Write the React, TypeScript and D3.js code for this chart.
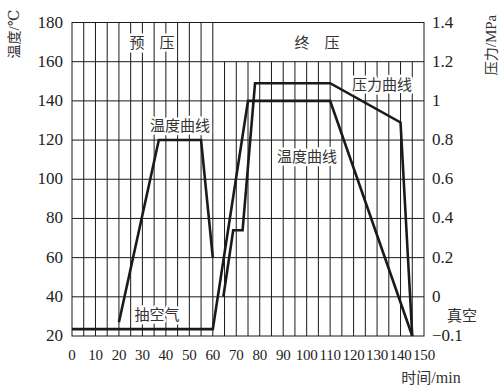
import React from 'react';
import * as d3 from 'd3';

// time in min, temperature in °C, pressure in MPa
const xTicks = d3.range(0, 151, 10);
const tempTicks = [20, 40, 60, 80, 100, 120, 140, 160, 180];
const pressTicks = [-0.1, 0, 0.2, 0.4, 0.6, 0.8, 1, 1.2, 1.4];
const pressTickLabels = ['−0.1', '0', '0.2', '0.4', '0.6', '0.8', '1', '1.2', '1.4'];

const preTemp: [number, number][] = [[20, 27], [37, 120], [55, 120], [60, 60]];
const mainTemp: [number, number][] = [[0, 23.5], [60, 23.5], [75, 140], [110, 140], [145, 20]];
const pressure: [number, number][] = [[64.5, 0], [68.7, 0.34], [72.7, 0.34], [78, 1.09], [110, 1.09], [140, 0.89], [145, -0.1]];

const serif = "'Liberation Serif', 'Times New Roman', 'DejaVu Serif', serif";
const cjk = "'Noto Sans CJK SC', sans-serif";

export default function App() {
  const W = 502, H = 391;
  const x = d3.scaleLinear().domain([0, 150]).range([72, 424]);
  const yT = d3.scaleLinear().domain([20, 180]).range([336, 22.5]);
  const yP = d3.scaleLinear().domain([-0.1, 0, 1.4]).range([336, 296.8, 22.5]);

  const lineT = d3.line<[number, number]>().x(d => x(d[0])).y(d => yT(d[1]));
  const lineP = d3.line<[number, number]>().x(d => x(d[0])).y(d => yP(d[1]));

  const minorX = d3.range(5, 150, 5);
  const halo = { stroke: '#fff', strokeWidth: 5, paintOrder: 'stroke', strokeLinejoin: 'round' as const };

  return (
    <svg width={W} height={H} style={{ position: 'absolute', left: 0, top: 0, background: '#fff' }}>
      {/* grid */}
      <g stroke="#1a1a1a" strokeWidth={1}>
        {minorX.map(m => (
          <line key={'v' + m} x1={x(m)} x2={x(m)} y1={m <= 60 ? yT(180) : yT(160)} y2={yT(20)} />
        ))}
        {tempTicks.slice(1, -1).map(t => (
          <line key={'h' + t} x1={x(0)} x2={x(150)} y1={yT(t)} y2={yT(t)} />
        ))}
        <rect x={x(0)} y={yT(180)} width={x(150) - x(0)} height={yT(20) - yT(180)} fill="none" />
      </g>

      {/* curves */}
      <g fill="none" stroke="#1a1a1a" strokeWidth={2.6} strokeLinejoin="miter">
        <path d={lineT(preTemp) || ''} />
        <path d={lineT(mainTemp) || ''} />
        <path d={lineP(pressure) || ''} />
      </g>

      {/* tick labels */}
      <g style={{ fontFamily: serif }} fontSize={17} fill="#222">
        {tempTicks.map(t => (
          <text key={t} x={63} y={yT(t) + 5} textAnchor="end">{t}</text>
        ))}
        {pressTicks.map((p, i) => (
          <text key={p} x={432} y={yP(p) + 5}>{pressTickLabels[i]}</text>
        ))}
        {xTicks.map(t => (
          <text key={t} x={x(t)} y={360} textAnchor="middle" fontSize={15} letterSpacing={-0.2}>{t}</text>
        ))}
      </g>

      {/* labels */}
      <g style={{ fontFamily: cjk }} fontSize={15} fill="#333" textAnchor="middle">
        <text x={152} y={48} {...halo}>预{'\u2003'}压</text>
        <text x={317} y={48} {...halo}>终{'\u2003'}压</text>
        <text x={180} y={131} {...halo}>温度曲线</text>
        <text x={382} y={90} {...halo}>压力曲线</text>
        <text x={307} y={162} {...halo}>温度曲线</text>
        <text x={157} y={320} {...halo}>抽空气</text>
        <text x={462} y={321}>真空</text>
        <text x={431} y={383}>时间<tspan style={{ fontFamily: serif }} fontSize={16}>/min</tspan></text>
        <text transform="translate(19,34) rotate(-90)" fontSize={14}>温度<tspan style={{ fontFamily: serif }} fontSize={15}>/℃</tspan></text>
        <text transform="translate(496,45) rotate(-90)" fontSize={14}>压力<tspan style={{ fontFamily: serif }} fontSize={15}>/MPa</tspan></text>
      </g>
    </svg>
  );
}
